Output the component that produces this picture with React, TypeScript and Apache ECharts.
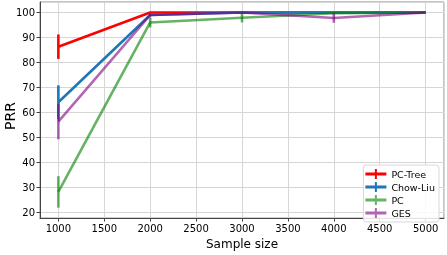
import React, { useEffect, useRef } from "react";
import * as echarts from "echarts";

const sampleSizes = [1000, 2000, 3000, 4000, 5000];
const seriesNames = ["PC-Tree", "Chow-Liu", "PC", "GES"];
const pcTree = [86.3, 100, 100, 100, 100];
const pcTreeErr = [4.9, 0, 0, 0, 0];
const chowLiu = [64, 99, 100, 100, 100];
const chowLiuErr = [6.8, 0.5, 0, 0, 0];
const pc = [28.1, 96, 97.9, 99.7, 100];
const pcErr = [6.3, 2, 1.9, 0.3, 0];
const ges = [56.3, 99, 100, 97.8, 100];
const gesErr = [7.1, 0.5, 0, 1.9, 0];

const colors = ["#ff0000", "#1f77b4", "rgba(0,128,0,0.6)", "rgba(128,0,128,0.6)"];
const values = [pcTree, chowLiu, pc, ges];
const errors = [pcTreeErr, chowLiuErr, pcErr, gesErr];

const FONT = "DejaVu Sans";
const ICON = "path://M0,3.5 L21,3.5 L21,6.5 L0,6.5 Z M9.5,0 L11.5,0 L11.5,10 L9.5,10 Z";

export default function App() {
  const ref = useRef<HTMLDivElement>(null);
  useEffect(() => {
    if (!ref.current) return;
    const chart = echarts.init(ref.current, null, { renderer: "svg" });
    const series: any[] = [];
    seriesNames.forEach((name, i) => {
      series.push({
        name,
        type: "line",
        data: sampleSizes.map((x, j) => [x, values[i][j]]),
        showSymbol: false,
        symbol: "none",
        lineStyle: { color: colors[i], width: 2.6 },
        itemStyle: { color: colors[i] },
        z: 2 + i,
      });
      series.push({
        name: name + "-err",
        type: "custom",
        data: sampleSizes.map((x, j) => [x, values[i][j], errors[i][j]]),
        encode: { x: 0, y: 1 },
        z: 2 + i,
        renderItem: (params: any, api: any) => {
          const x = api.value(0);
          const y = api.value(1);
          const e = api.value(2);
          if (!e) return null;
          const p1 = api.coord([x, y - e]);
          const p2 = api.coord([x, y + e]);
          return {
            type: "line",
            shape: { x1: p1[0], y1: p1[1], x2: p2[0], y2: p2[1] },
            style: { stroke: colors[i], lineWidth: 2.6 },
          };
        },
      });
    });
    chart.setOption({
      animation: false,
      textStyle: { fontFamily: FONT },
      grid: {
        left: 40,
        right: 3,
        top: 2,
        bottom: 29,
        show: true,
        borderColor: "#8a8a8a",
        borderWidth: 1,
        containLabel: false,
      },
      graphic: [
        {
          type: "text",
          x: 10,
          y: 116,
          rotation: Math.PI / 2,
          style: {
            text: "PRR",
            font: "14px 'DejaVu Sans'",
            fill: "#000",
            align: "center",
            verticalAlign: "middle",
          },
        },
      ],
      legend: {
        orient: "vertical",
        right: 8,
        bottom: 33,
        data: seriesNames.map((n) => ({ name: n, icon: ICON })),
        itemWidth: 21,
        itemHeight: 10,
        itemGap: 1,
        symbolKeepAspect: false,
        padding: [3, 4, 3, 2],
        backgroundColor: "rgba(255,255,255,0.85)",
        borderColor: "#d8d8d8",
        borderWidth: 1,
        borderRadius: 3,
        textStyle: { fontFamily: FONT, fontSize: 9.5, color: "#000", lineHeight: 12 },
      },
      xAxis: {
        type: "value",
        min: 800,
        max: 5200,
        splitNumber: 9,
        minInterval: 500,
        maxInterval: 500,
        name: "Sample size",
        nameLocation: "middle",
        nameGap: 18,
        nameTextStyle: { fontFamily: FONT, fontSize: 12, color: "#000" },
        axisLine: { show: true, lineStyle: { color: "#444", width: 1 } },
        axisTick: { show: true, length: 3.5, lineStyle: { color: "#444" } },
        axisLabel: {
          fontFamily: FONT,
          fontSize: 10,
          color: "#000",
          margin: 5,
          showMinLabel: false,
          showMaxLabel: false,
          formatter: (v: number) => (v % 500 === 0 && v >= 1000 && v <= 5000 ? String(v) : ""),
        },
        splitLine: { show: true, lineStyle: { color: "#d6d6d6", width: 1 } },
      },
      yAxis: {
        type: "value",
        min: 17.6,
        max: 104.2,
        splitNumber: 9,
        minInterval: 10,
        maxInterval: 10,
        axisLine: { show: true, lineStyle: { color: "#444", width: 1 } },
        axisTick: { show: true, length: 3.5, lineStyle: { color: "#444" } },
        axisLabel: {
          fontFamily: FONT,
          fontSize: 10,
          color: "#000",
          margin: 5,
          showMinLabel: false,
          showMaxLabel: false,
          formatter: (v: number) => (v % 10 === 0 ? String(v) : ""),
        },
        splitLine: { show: true, lineStyle: { color: "#d6d6d6", width: 1 } },
      },
      series,
    });
    return () => chart.dispose();
  }, []);
  return (
    <div
      ref={ref}
      style={{ position: "fixed", left: 0, top: 0, width: 447, height: 255 }}
    />
  );
}
